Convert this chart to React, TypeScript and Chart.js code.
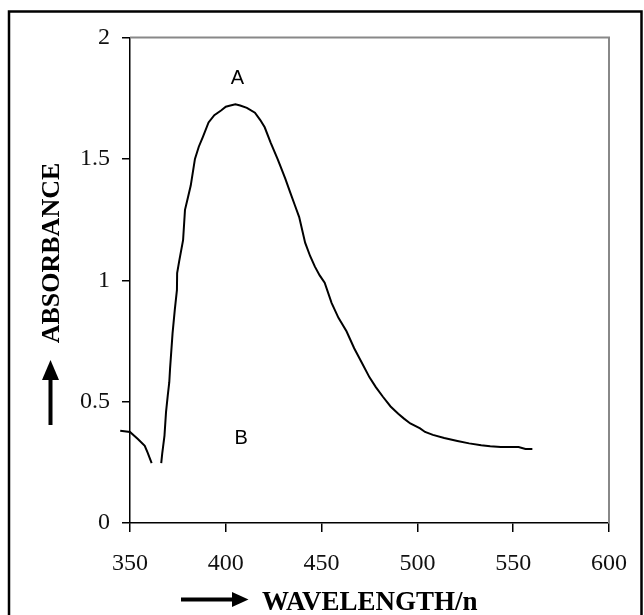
import React, { useEffect, useRef } from "react";
import { Chart, registerables } from "chart.js";

Chart.register(...registerables);

const xTicks = [350, 400, 450, 500, 550, 600];
const yTicks = [0, 0.5, 1, 1.5, 2];

const leftWl = [340.2, 344.9, 350, 354.1, 357.7, 359.2, 361.3];
const leftAbs = [0.388, 0.38, 0.375, 0.346, 0.318, 0.29, 0.247];

const mainWl = [
  366.3, 366.8, 368.0, 368.8, 369.7, 370.5, 370.9, 372.2, 373.4, 374.5, 374.6,
  375.7, 377.7, 378.7, 380.2, 381.7, 383.9, 385.9, 388.0, 391.0, 394.0, 397.7,
  400.0, 402.4, 405.0, 407.5, 411.0, 415.2, 418.0, 420.3, 423.4, 427.0, 428.5,
  431.0, 433.7, 436.0, 438.3, 441.4, 444.0, 446.5, 449.0, 451.6, 455.2, 458.8,
  463.0, 467.0, 471.0, 475.0, 478.3, 482.0, 486.0, 490.0, 493.0, 496.3, 501.4,
  504.0, 508.1, 514.0, 520.9, 527.0, 533.3, 538.0, 543.5, 552.8, 556.4, 560.0,
];
const mainAbs = [
  0.247, 0.285, 0.36, 0.457, 0.525, 0.58, 0.635, 0.78, 0.88, 0.96, 1.03,
  1.08, 1.165, 1.29, 1.34, 1.39, 1.5, 1.55, 1.59, 1.65, 1.68, 1.7,
  1.715, 1.72, 1.725, 1.72, 1.71, 1.69, 1.66, 1.63, 1.567, 1.5, 1.47,
  1.42, 1.36, 1.31, 1.26, 1.155, 1.1, 1.056, 1.02, 0.99, 0.907, 0.845,
  0.79, 0.72, 0.66, 0.6, 0.56, 0.52, 0.48, 0.45, 0.43, 0.41, 0.39,
  0.375, 0.363, 0.35, 0.338, 0.328, 0.32, 0.316, 0.313, 0.313, 0.305, 0.305,
];

const labelA = { text: "A", x: 406, y: 1.83 };
const labelB = { text: "B", x: 408, y: 0.35 };
const xTitle = "WAVELENGTH/n";
const yTitle = "ABSORBANCE";

const W = 644;
const H = 615;

const decorPlugin = {
  id: "decor",
  beforeDatasetsDraw(chart: any) {
    const { ctx, chartArea } = chart;
    ctx.save();
    ctx.strokeStyle = "#888888";
    ctx.lineWidth = 2;
    ctx.beginPath();
    ctx.moveTo(chartArea.left, chartArea.top);
    ctx.lineTo(chartArea.right, chartArea.top);
    ctx.lineTo(chartArea.right, chartArea.bottom);
    ctx.stroke();
    ctx.restore();
  },
  afterDraw(chart: any) {
    const { ctx, scales } = chart;
    const xs = scales.x;
    const ys = scales.y;
    ctx.save();
    // clip the last tick label like the original
    ctx.fillStyle = "#ffffff";
    ctx.fillRect(630, 540, 9, 45);

    // A / B labels
    ctx.fillStyle = "#000";
    ctx.font = "20px 'Liberation Sans', Arial, sans-serif";
    ctx.textAlign = "center";
    ctx.textBaseline = "middle";
    ctx.fillText(labelA.text, xs.getPixelForValue(labelA.x), ys.getPixelForValue(labelA.y));
    ctx.fillText(labelB.text, xs.getPixelForValue(labelB.x), ys.getPixelForValue(labelB.y));

    // x title with arrow
    ctx.font = "bold 27px 'Liberation Serif', 'Times New Roman', serif";
    ctx.textAlign = "left";
    ctx.textBaseline = "middle";
    ctx.fillText(xTitle, 262, 603);
    ctx.fillRect(181, 597.5, 52, 4);
    ctx.beginPath();
    ctx.moveTo(232, 592);
    ctx.lineTo(248.5, 599.5);
    ctx.lineTo(232, 607);
    ctx.closePath();
    ctx.fill();

    // y title with arrow
    ctx.font = "bold 26px 'Liberation Serif', 'Times New Roman', serif";
    ctx.save();
    ctx.translate(52, 253);
    ctx.rotate(-Math.PI / 2);
    ctx.textAlign = "center";
    ctx.textBaseline = "middle";
    ctx.fillText(yTitle, 0, 0);
    ctx.restore();
    ctx.fillRect(48.5, 378, 4, 47);
    ctx.beginPath();
    ctx.moveTo(42, 380);
    ctx.lineTo(50.5, 360);
    ctx.lineTo(59, 380);
    ctx.closePath();
    ctx.fill();

    // outer frame
    ctx.strokeStyle = "#000";
    ctx.lineWidth = 2.5;
    ctx.strokeRect(9, 11.5, 632.5, 700);
    ctx.restore();
  },
};

export default function App() {
  const ref = useRef<HTMLCanvasElement | null>(null);

  useEffect(() => {
    if (!ref.current) return;
    const tickFont = { family: "'Liberation Serif', 'Times New Roman', serif", size: 24 };
    const chart = new Chart(ref.current, {
      type: "line",
      data: {
        datasets: [
          {
            data: leftWl.map((x, i) => ({ x, y: leftAbs[i] })),
            borderColor: "#000",
            borderWidth: 2,
            pointRadius: 0,
            tension: 0,
            clip: false as any,
          },
          {
            data: mainWl.map((x, i) => ({ x, y: mainAbs[i] })),
            borderColor: "#000",
            borderWidth: 2,
            pointRadius: 0,
            tension: 0,
            clip: false as any,
          },
        ],
      },
      options: {
        animation: false,
        responsive: false,
        devicePixelRatio: 1,
        layout: { padding: { top: 37.5, right: 27, left: 0, bottom: 0 } },
        plugins: { legend: { display: false }, tooltip: { enabled: false } },
        scales: {
          x: {
            type: "linear",
            min: xTicks[0],
            max: xTicks[xTicks.length - 1],
            afterBuildTicks: (s: any) => {
              s.ticks = xTicks.map((v) => ({ value: v }));
            },
            afterFit: (s: any) => {
              s.height = 92;
            },
            ticks: {
              font: tickFont,
              color: "#111",
              padding: 17,
              maxRotation: 0,
              autoSkip: false,
              callback: (v: any) => String(v),
            },
            grid: { drawOnChartArea: false, drawTicks: true, tickLength: 9, color: "#000", lineWidth: 1.5 },
            border: { color: "#000", width: 1.5 },
          },
          y: {
            type: "linear",
            min: yTicks[0],
            max: yTicks[yTicks.length - 1],
            afterBuildTicks: (s: any) => {
              s.ticks = yTicks.map((v) => ({ value: v }));
            },
            afterFit: (s: any) => {
              s.width = 130;
            },
            ticks: {
              font: tickFont,
              color: "#111",
              padding: 12,
              callback: (v: any) => String(v),
            },
            grid: { drawOnChartArea: false, drawTicks: true, tickLength: 8, color: "#000", lineWidth: 1.5 },
            border: { color: "#000", width: 1.5 },
          },
        },
      },
      plugins: [decorPlugin],
    });
    return () => chart.destroy();
  }, []);

  return (
    <div style={{ position: "fixed", left: 0, top: 0, width: W, height: H, background: "#fff" }}>
      <canvas ref={ref} width={W} height={H} style={{ width: W, height: H, display: "block" }} />
    </div>
  );
}
